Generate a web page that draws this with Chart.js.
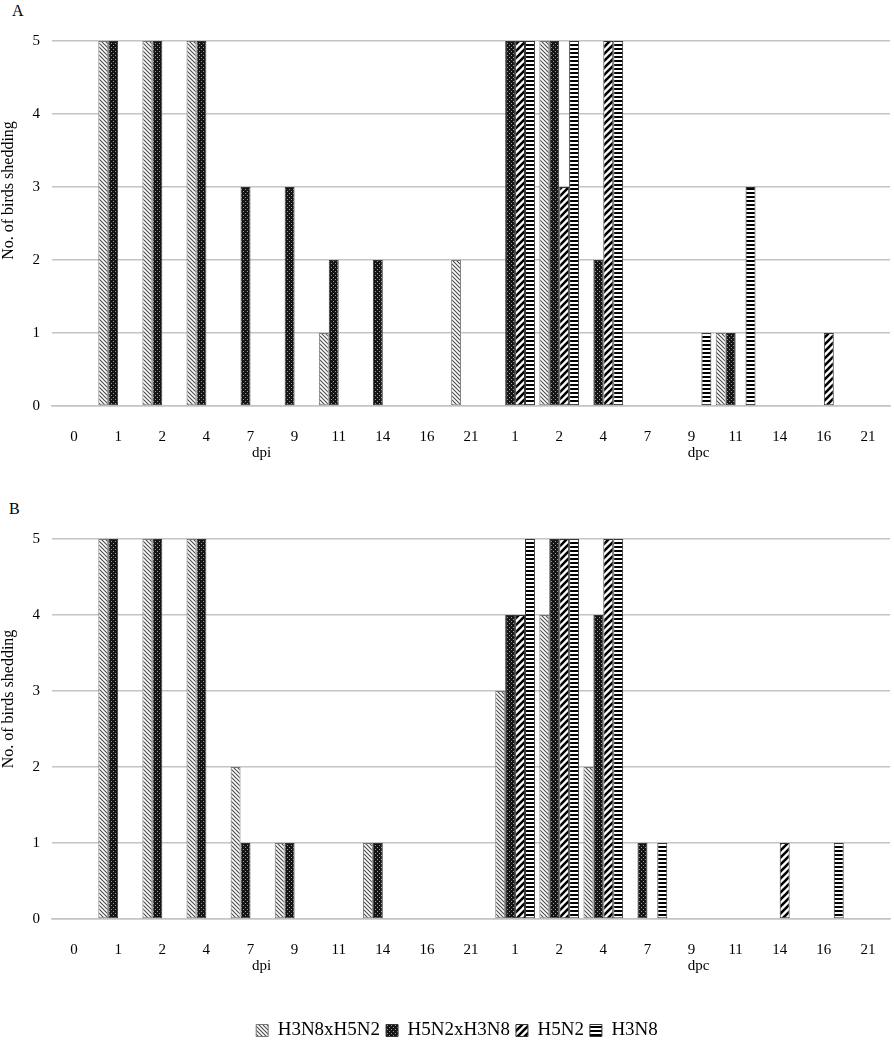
<!DOCTYPE html>
<html>
<head>
<meta charset="utf-8">
<script src="https://cdn.jsdelivr.net/npm/chart.js@4.4.1/dist/chart.umd.min.js"></script>
<style>
  html, body { margin: 0; padding: 0; background: #fff; }
  body { width: 894px; height: 1050px; position: relative; overflow: hidden; font-family: "Liberation Serif", "Times New Roman", serif; }
  .panel { position: absolute; left: 0; width: 894px; }
  .tag { position: absolute; font-size: 16px; color: #000; }
</style>
</head>
<body>
<div class="tag" style="left:12px; top:2px;">A</div>
<div class="panel" style="top:0; height:470px;"><canvas id="chartA"></canvas></div>
<div class="tag" style="left:9px; top:500px;">B</div>
<div class="panel" style="top:490px; height:560px;"><canvas id="chartB"></canvas></div>

<script>
// categories: days post infection (dpi) then days post contact (dpc)
const categories = ["0", "1", "2", "4", "7", "9", "11", "14", "16", "21",
                    "1", "2", "4", "7", "9", "11", "14", "16", "21"];
const groupNames = ["dpi", "dpc"];
const groupFirst = [0, 10];
const groupLast = [9, 18];
const groupNudge = [-11, 7]; // the group captions sit a little off-centre
const seriesNames = ["H3N8xH5N2", "H5N2xH3N8", "H5N2", "H3N8"];
const yTicks = [0, 1, 2, 3, 4, 5];
const yTitle = "No. of birds shedding";

// Panel A
const aH3N8xH5N2 = [0, 5, 5, 5, 0, 0, 1, 0, 0, 2, 0, 5, 0, 0, 0, 1, 0, 0, 0];
const aH5N2xH3N8 = [0, 5, 5, 5, 3, 3, 2, 2, 0, 0, 5, 5, 2, 0, 0, 1, 0, 0, 0];
const aH5N2 = [0, 0, 0, 0, 0, 0, 0, 0, 0, 0, 5, 3, 5, 0, 0, 0, 0, 1, 0];
const aH3N8 = [0, 0, 0, 0, 0, 0, 0, 0, 0, 0, 5, 5, 5, 0, 1, 3, 0, 0, 0];

// Panel B
const bH3N8xH5N2 = [0, 5, 5, 5, 2, 1, 0, 1, 0, 0, 3, 4, 2, 0, 0, 0, 0, 0, 0];
const bH5N2xH3N8 = [0, 5, 5, 5, 1, 1, 0, 1, 0, 0, 4, 5, 4, 1, 0, 0, 0, 0, 0];
const bH5N2 = [0, 0, 0, 0, 0, 0, 0, 0, 0, 0, 4, 5, 5, 0, 0, 0, 1, 0, 0];
const bH3N8 = [0, 0, 0, 0, 0, 0, 0, 0, 0, 0, 5, 5, 5, 1, 0, 0, 0, 1, 0];

const SERIF = "'Liberation Serif', 'Times New Roman', serif";

// hatch fills, built on small tiles
function makePattern(kind) {
  const c = document.createElement("canvas");
  const ctx = c.getContext("2d");
  if (kind === "back") {
    c.width = 4; c.height = 4;
    ctx.fillStyle = "#fff"; ctx.fillRect(0, 0, 4, 4);
    ctx.strokeStyle = "#4a4a4a"; ctx.lineWidth = 1.1;
    ctx.beginPath();
    ctx.moveTo(-1, -1); ctx.lineTo(5, 5);
    ctx.moveTo(-1, 3); ctx.lineTo(1, 5);
    ctx.moveTo(3, -1); ctx.lineTo(5, 1);
    ctx.stroke();
  } else if (kind === "dots") {
    c.width = 4; c.height = 4;
    ctx.fillStyle = "#151515"; ctx.fillRect(0, 0, 4, 4);
    ctx.fillStyle = "#9a9a9a";
    ctx.fillRect(1, 1, 1, 1);
    ctx.fillRect(3, 3, 1, 1);
  } else if (kind === "slash") {
    c.width = 7; c.height = 7;
    ctx.fillStyle = "#fff"; ctx.fillRect(0, 0, 7, 7);
    ctx.strokeStyle = "#000"; ctx.lineWidth = 2.6;
    ctx.beginPath();
    ctx.moveTo(-1, 8); ctx.lineTo(8, -1);
    ctx.moveTo(-4, 4); ctx.lineTo(4, -4);
    ctx.moveTo(3, 11); ctx.lineTo(11, 3);
    ctx.stroke();
  } else {
    c.width = 4; c.height = 4;
    ctx.fillStyle = "#fff"; ctx.fillRect(0, 0, 4, 4);
    ctx.fillStyle = "#000"; ctx.fillRect(0, 0, 4, 2);
  }
  return ctx.createPattern(c, "repeat");
}

const fills = [makePattern("back"), makePattern("dots"), makePattern("slash"), makePattern("stripes")];
const borders = ["#777", "#333", "#333", "#333"];

// draws "dpi" / "dpc" under their day groups and the rotated y title
const extraTextPlugin = {
  id: "extraText",
  afterDraw(chart, args, opts) {
    const xs = chart.scales.x;
    const area = chart.chartArea;
    const ctx = chart.ctx;
    ctx.save();
    ctx.font = "15px " + SERIF;
    ctx.fillStyle = "#000";
    ctx.textAlign = "center";
    ctx.textBaseline = "middle";
    groupNames.forEach((name, i) => {
      const a = xs.getPixelForValue(groupFirst[i]);
      const b = xs.getPixelForValue(groupLast[i]);
      ctx.fillText(name, (a + b) / 2 + groupNudge[i], area.bottom + 47);
    });
    ctx.translate(9, (area.top + area.bottom) / 2 - opts.titleShift);
    ctx.rotate(-Math.PI / 2);
    ctx.font = "16px " + SERIF;
    ctx.fillText(yTitle, 0, 0);
    ctx.restore();
  },
};

function buildChart(id, values, opts) {
  const datasets = values.map((vals, i) => ({
    label: seriesNames[i],
    data: vals,
    backgroundColor: fills[i],
    borderColor: borders[i],
    borderWidth: 1,
    borderSkipped: false,
    categoryPercentage: 0.9,
    barPercentage: 1.0,
  }));

  return new Chart(document.getElementById(id), {
    type: "bar",
    data: { labels: categories, datasets: datasets },
    options: {
      responsive: true,
      maintainAspectRatio: false,
      animation: false,
      layout: { padding: { top: opts.top, right: 4, left: 24, bottom: 0 } },
      plugins: {
        legend: opts.legend
          ? {
              display: true,
              position: "bottom",
              labels: {
                font: { family: SERIF, size: 19 },
                color: "#000",
                boxWidth: 12,
                boxHeight: 12,
                padding: 6,
              },
            }
          : { display: false },
        tooltip: { enabled: false },
        extraText: { titleShift: opts.titleShift },
      },
      scales: {
        x: {
          grid: { display: false },
          border: { display: true, color: "#c4c4c4", width: 1.5 },
          ticks: { font: { family: SERIF, size: 15 }, color: "#000", padding: 14, maxRotation: 0, autoSkip: false },
          afterFit: (s) => { s.height = opts.xHeight; },
        },
        y: {
          min: 0,
          max: 5,
          afterBuildTicks: (s) => { s.ticks = yTicks.map((v) => ({ value: v })); },
          grid: { color: "#c4c4c4", lineWidth: 1.5, drawTicks: false },
          border: { display: false },
          ticks: { font: { family: SERIF, size: 15 }, color: "#000", padding: 12 },
          afterFit: (s) => { s.width = 28; },
        },
      },
    },
    plugins: [extraTextPlugin],
  });
}

window.chartA = buildChart("chartA", [aH3N8xH5N2, aH5N2xH3N8, aH5N2, aH3N8], { top: 41, xHeight: 64, legend: false, titleShift: 33 });
window.chartB = buildChart("chartB", [bH3N8xH5N2, bH5N2xH3N8, bH5N2, bH3N8], { top: 49, xHeight: 96, legend: true, titleShift: 30 });
</script>
</body>
</html>
